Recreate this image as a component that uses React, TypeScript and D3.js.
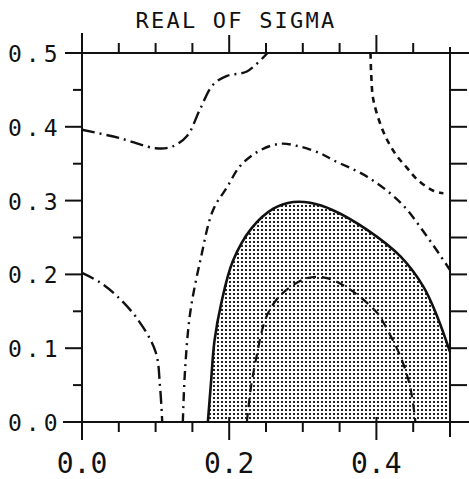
import React from "react";
import * as d3 from "d3";

// Axis ticks
const xMajorTicks = [0.0, 0.2, 0.4];
const xMinorTicks = [0.05, 0.1, 0.15, 0.25, 0.3, 0.35, 0.45];
const yMajorTicks = [0.0, 0.1, 0.2, 0.3, 0.4, 0.5];
const yMinorTicks = [0.05, 0.15, 0.25, 0.35, 0.45];
const title = "REAL OF SIGMA";

// Contour lines, [x, y] pairs
const upperLeftContour: [number, number][] = [
  [0.0, 0.396], [0.05, 0.385], [0.1, 0.371], [0.122, 0.373], [0.143, 0.388],
  [0.16, 0.423], [0.178, 0.457], [0.197, 0.469], [0.224, 0.475], [0.252, 0.5],
];
const lowerLeftContour: [number, number][] = [
  [0.0, 0.202], [0.023, 0.19], [0.046, 0.172], [0.075, 0.14], [0.1, 0.095],
  [0.106, 0.048], [0.109, 0.0],
];
const archContour: [number, number][] = [
  [0.137, 0.0], [0.14, 0.07], [0.147, 0.148], [0.161, 0.22], [0.178, 0.287],
  [0.197, 0.318], [0.215, 0.347], [0.24, 0.367], [0.269, 0.377], [0.297, 0.373],
  [0.324, 0.364], [0.341, 0.355], [0.388, 0.332], [0.433, 0.297], [0.469, 0.251],
  [0.5, 0.206],
];
const upperRightContour: [number, number][] = [
  [0.392, 0.5], [0.393, 0.47], [0.396, 0.436], [0.41, 0.392], [0.426, 0.363],
  [0.441, 0.345], [0.456, 0.328], [0.478, 0.313], [0.491, 0.31],
];
const zeroContour: [number, number][] = [
  [0.171, 0.0], [0.175, 0.05], [0.18, 0.11], [0.189, 0.16], [0.205, 0.218],
  [0.23, 0.262], [0.26, 0.289], [0.287, 0.298], [0.31, 0.297], [0.341, 0.287],
  [0.388, 0.26], [0.433, 0.224], [0.464, 0.183], [0.483, 0.142], [0.5, 0.095],
];
const innerContour: [number, number][] = [
  [0.224, 0.0], [0.23, 0.05], [0.238, 0.093], [0.246, 0.129], [0.255, 0.152],
  [0.273, 0.175], [0.306, 0.195], [0.333, 0.195], [0.365, 0.179], [0.401, 0.148],
  [0.41, 0.134], [0.433, 0.088], [0.446, 0.047], [0.453, 0.0],
];

const W = 469;
const H = 479;
const FONT = "'DejaVu Sans Mono', monospace";

export default function App() {
  const x = d3.scaleLinear().domain([0, 0.5]).range([82, 450]);
  const y = d3.scaleLinear().domain([0, 0.5]).range([422, 53]);
  const line = d3
    .line<[number, number]>()
    .x((d) => x(d[0]))
    .y((d) => y(d[1]))
    .curve(d3.curveCatmullRom.alpha(0.5));

  const shaded =
    (line(zeroContour) as string) +
    `L${x(0.5)},${y(0)}L${x(zeroContour[0][0])},${y(0)}Z`;

  const x0 = x(0), x1 = x(0.5), y0 = y(0), y1 = y(0.5);
  const axisStroke = { stroke: "#111", strokeWidth: 2, fill: "none" };

  const contours = [
    { data: upperLeftContour, dash: "13,5,2,5", w: 2.4 },
    { data: lowerLeftContour, dash: "13,5,2,5", w: 2.4 },
    { data: archContour, dash: "9,5,2,5", w: 2.4 },
    { data: upperRightContour, dash: "6,5", w: 2.6 },
    { data: innerContour, dash: "9,6", w: 2.2 },
  ];

  return (
    <svg
      width={W}
      height={H}
      style={{ position: "absolute", left: 0, top: 0, background: "#fff" }}
    >
      <defs>
        <pattern id="dots" width={4} height={4} patternUnits="userSpaceOnUse">
          <rect x={1} y={1} width={2} height={2} fill="#222" />
        </pattern>
      </defs>

      {/* shaded region bounded by the zero contour */}
      <path d={shaded} fill="url(#dots)" stroke="none" />

      {/* frame lines */}
      <line x1={63} x2={469} y1={y0} y2={y0} {...axisStroke} />
      <line x1={65} x2={469} y1={y1} y2={y1} {...axisStroke} />
      <line x1={x0} x2={x0} y1={33} y2={440} {...axisStroke} />
      <line x1={x1} x2={x1} y1={47} y2={437} {...axisStroke} />

      {/* bottom ticks */}
      {xMajorTicks.map((t) => (
        <line key={"bx" + t} x1={x(t)} x2={x(t)} y1={y0 - 5} y2={y0 + 18} {...axisStroke} />
      ))}
      {xMinorTicks.map((t) => (
        <line key={"bm" + t} x1={x(t)} x2={x(t)} y1={y0} y2={y0 + 10} {...axisStroke} />
      ))}
      {/* top ticks */}
      {xMajorTicks.map((t) => (
        <line key={"tx" + t} x1={x(t)} x2={x(t)} y1={y1 - 18} y2={y1} {...axisStroke} />
      ))}
      {xMinorTicks.map((t) => (
        <line key={"tm" + t} x1={x(t)} x2={x(t)} y1={y1 - 10} y2={y1} {...axisStroke} />
      ))}
      {/* left ticks */}
      {yMajorTicks.map((t) => (
        <line key={"ly" + t} x1={x0 - 17} x2={x0} y1={y(t)} y2={y(t)} {...axisStroke} />
      ))}
      {yMinorTicks.map((t) => (
        <line key={"lm" + t} x1={x0 - 9} x2={x0} y1={y(t)} y2={y(t)} {...axisStroke} />
      ))}
      {/* right ticks */}
      {[...yMajorTicks, ...yMinorTicks]
        .filter((t) => t > 0 && t < 0.5)
        .map((t) => (
          <line key={"ry" + t} x1={x1} x2={x1 + 17} y1={y(t)} y2={y(t)} {...axisStroke} />
        ))}

      {/* contours */}
      <path d={line(zeroContour) as string} fill="none" stroke="#111" strokeWidth={2.6} />
      {contours.map((c, i) => (
        <path
          key={i}
          d={line(c.data) as string}
          fill="none"
          stroke="#111"
          strokeWidth={c.w}
          strokeDasharray={c.dash}
        />
      ))}

      {/* tick labels */}
      {yMajorTicks.map((t) => (
        <text
          key={"yl" + t}
          x={8}
          y={y(t) + 9}
          fontFamily={FONT}
          fontSize={23}
          letterSpacing={4}
          fill="#111"
        >
          {t.toFixed(1)}
        </text>
      ))}
      {xMajorTicks.map((t) => (
        <text
          key={"xl" + t}
          x={x(t)}
          y={473}
          textAnchor="middle"
          fontFamily={FONT}
          fontSize={28}
          fill="#111"
        >
          {t.toFixed(1)}
        </text>
      ))}

      <text
        x={236}
        y={28}
        textAnchor="middle"
        fontFamily={FONT}
        fontSize={22}
        letterSpacing={2.2}
        fill="#111"
      >
        {title}
      </text>
    </svg>
  );
}
